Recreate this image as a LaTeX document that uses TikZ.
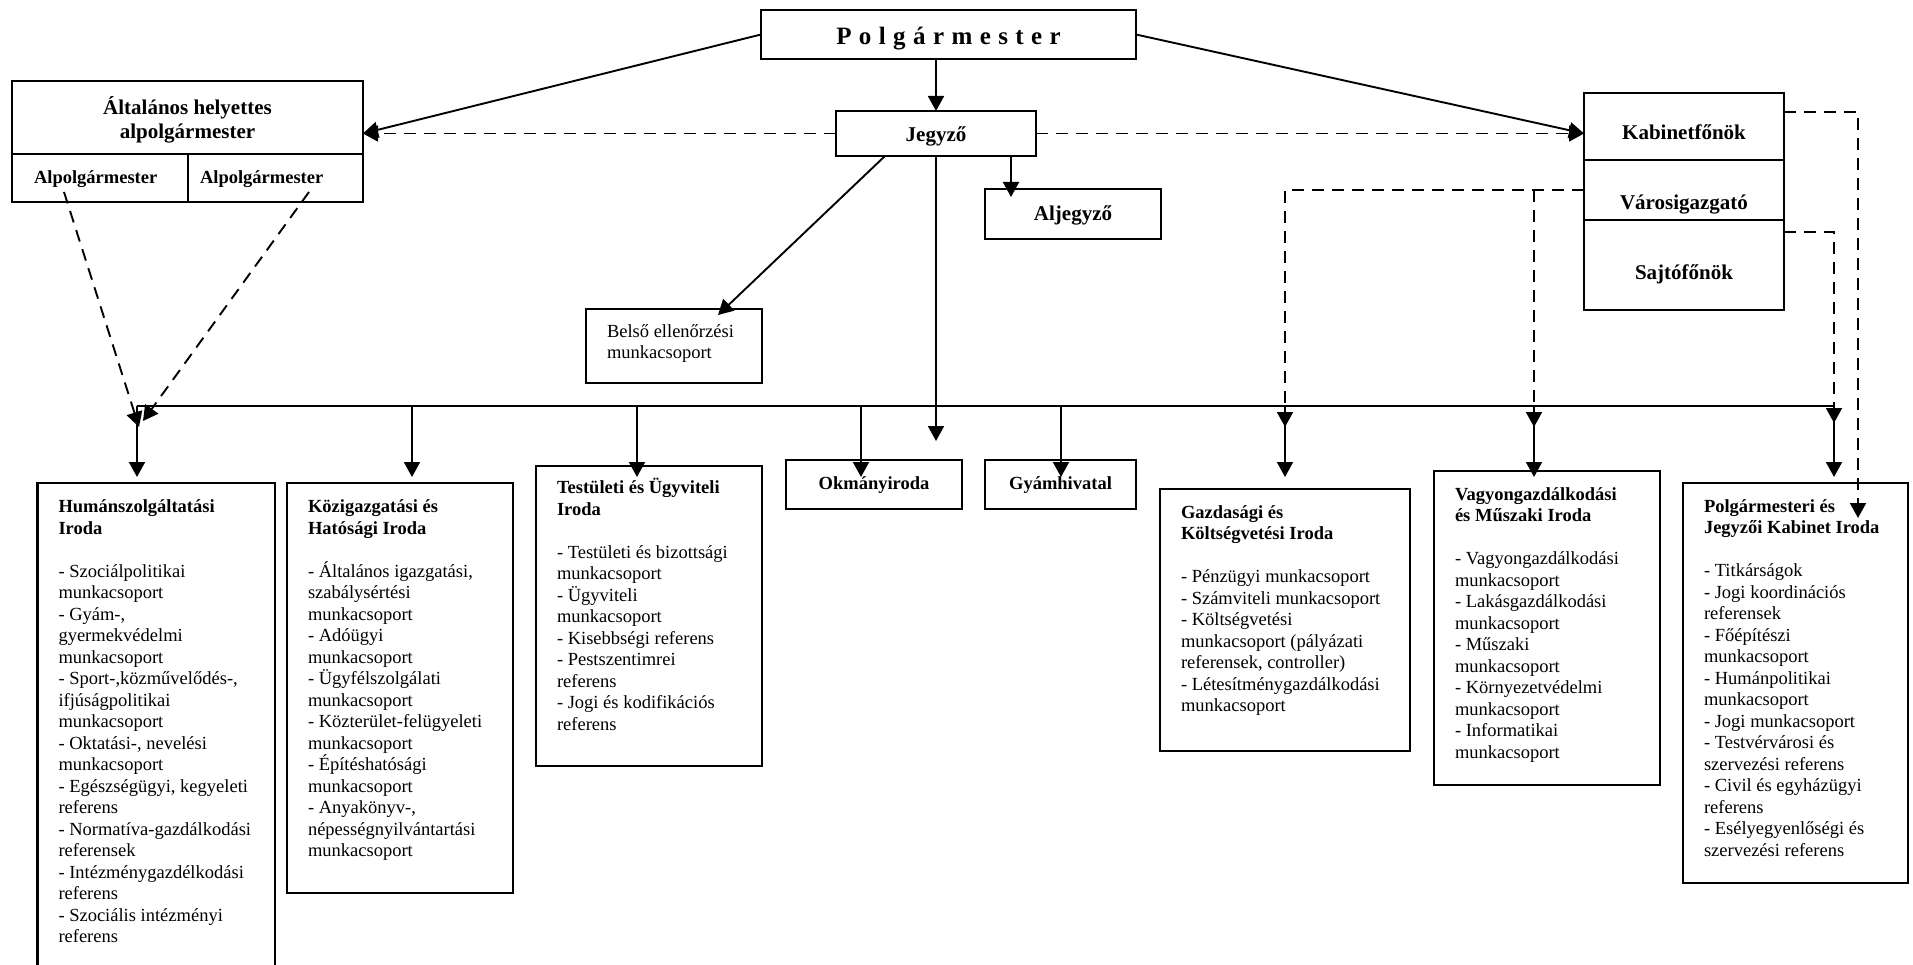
\documentclass[tikz,border=0pt]{standalone}
\usepackage{fontspec}
\setmainfont{Liberation Serif}
\usetikzlibrary{arrows.meta,calc}
\newcommand\bx[8]{\node[obox] (#1) at (#2,#3) {\parbox[c][#5pt][t]{#4pt}{#7\vspace*{\dimexpr#6pt-\ht\strutbox\relax}\strut#8}};}
\newcommand\offset{\fontsize{18.5}{21.5}\selectfont\raggedright\leftskip=21pt }
\newcommand\labset{\fontsize{21}{23.4}\selectfont\bfseries\centering}
\newcommand\smlab{\fontsize{18.5}{21.5}\selectfont\bfseries\centering}
\begin{document}
\begin{tikzpicture}[x=1pt,y=-1pt,
  obox/.style={draw,line width=2.1pt,inner sep=0pt,outer sep=0pt,anchor=north west},
  conn/.style={line width=1.9pt},
  arr/.style={conn,-{Triangle[length=15pt,width=16pt]}},
  dsh/.style={dash pattern=on 12pt off 8pt},
  darr/.style={arr,dsh}]
\useasboundingbox (0,0) rectangle (1913,965);
\clip (0,0) rectangle (1913,965);
% top level
\bx{pm}{761}{10}{375}{49}{35}{\fontsize{25}{28}\selectfont\bfseries\centering}{P\kern7.4pt o\kern7.4pt l\kern7.4pt g\kern7.4pt á\kern7.4pt r\kern7.4pt m\kern7.4pt e\kern7.4pt s\kern7.4pt t\kern7.4pt e\kern7.4pt r}
\bx{alt}{12}{81}{351}{73}{32}{\labset}{Általános helyettes\\alpolgármester}
\bx{alp1}{12}{154}{176}{48}{30}{\fontsize{18.5}{21.5}\selectfont\bfseries\raggedright\leftskip=22pt }{Alpolgármester}
\bx{alp2}{188}{154}{175}{48}{30}{\fontsize{18.5}{21.5}\selectfont\bfseries\raggedright\leftskip=12pt }{Alpolgármester}
\bx{jeg}{836}{111}{200}{45}{30.5}{\labset}{Jegyző}
\bx{alj}{985}{189}{176}{50}{32}{\labset}{Aljegyző}
\bx{bel}{586}{309}{176}{74}{29}{\fontsize{18.5}{21}\selectfont\raggedright\leftskip=21pt }{Belső ellenőrzési\\munkacsoport}
\bx{kab}{1584}{93}{200}{67}{47}{\labset}{Kabinetfőnök}
\bx{varos}{1584}{160}{200}{60}{50}{\labset}{Városigazgató}
\bx{sajto}{1584}{220}{200}{90}{60}{\labset}{Sajtófőnök}
% offices
\bx{okm}{786}{460}{176}{49}{29.5}{\smlab}{Okmányiroda}
\bx{gyam}{985}{460}{151}{49}{29.5}{\smlab}{Gyámhivatal}
\bx{hum}{37.5}{483}{237.5}{495}{29.5}{\offset}{\textbf{Humánszolgáltatási}\\\textbf{Iroda}\\[21.5pt]- Szociálpolitikai\\munkacsoport\\- Gyám-,\\gyermekvédelmi\\munkacsoport\\- Sport-,közművelődés-,\\ifjúságpolitikai\\munkacsoport\\- Oktatási-, nevelési\\munkacsoport\\- Egészségügyi, kegyeleti\\referens\\- Normatíva-gazdálkodási\\referensek\\- Intézménygazdélkodási\\referens\\- Szociális intézményi\\referens}
\bx{koz}{287}{483}{226}{410}{29.5}{\offset}{\textbf{Közigazgatási és}\\\textbf{Hatósági Iroda}\\[21.5pt]- Általános igazgatási,\\szabálysértési\\munkacsoport\\- Adóügyi\\munkacsoport\\- Ügyfélszolgálati\\munkacsoport\\- Közterület-felügyeleti\\munkacsoport\\- Építéshatósági\\munkacsoport\\- Anyakönyv-,\\népességnyilvántartási\\munkacsoport}
\bx{tes}{536}{466}{226}{300}{27.5}{\offset}{\textbf{Testületi és Ügyviteli}\\\textbf{Iroda}\\[21.5pt]- Testületi és bizottsági\\munkacsoport\\- Ügyviteli\\munkacsoport\\- Kisebbségi referens\\- Pestszentimrei\\referens\\- Jogi és kodifikációs\\referens}
\bx{gaz}{1160}{489}{250}{262}{29}{\offset}{\textbf{Gazdasági és}\\\textbf{Költségvetési Iroda}\\[21.5pt]- Pénzügyi munkacsoport\\- Számviteli munkacsoport\\- Költségvetési\\munkacsoport (pályázati\\referensek, controller)\\- Létesítménygazdálkodási\\munkacsoport}
\bx{vag}{1434}{471}{226}{314}{29}{\offset}{\textbf{Vagyongazdálkodási}\\\textbf{és Műszaki Iroda}\\[21.5pt]- Vagyongazdálkodási\\munkacsoport\\- Lakásgazdálkodási\\munkacsoport\\- Műszaki\\munkacsoport\\- Környezetvédelmi\\munkacsoport\\- Informatikai\\munkacsoport}
\bx{pol}{1683}{483}{225}{400}{29}{\offset}{\textbf{Polgármesteri és}\\\textbf{Jegyzői Kabinet Iroda}\\[21.5pt]- Titkárságok\\- Jogi koordinációs\\referensek\\- Főépítészi\\munkacsoport\\- Humánpolitikai\\munkacsoport\\- Jogi munkacsoport\\- Testvérvárosi és\\szervezési referens\\- Civil és egyházügyi\\referens\\- Esélyegyenlőségi és\\szervezési referens}
% connectors at the top
\draw[arr] (pm.west) -- (jeg.west -| alt.east);
\draw[arr] (pm.east) -- (jeg.east -| kab.west);
\draw[arr] (jeg.north |- pm.south) -- (jeg.north);
\draw[darr] (jeg.west) -- (jeg.west -| alt.east);
\draw[darr] (jeg.east) -- (jeg.east -| kab.west);
\coordinate (jA) at ($(jeg.south east)+(-25,0)$);
\draw[arr] (jA) -- ($(jA |- alj.north)+(0,8)$);
\coordinate (jB) at ($(jeg.south west)+(49,0)$);
\draw[arr] (jB) -- ($(bel.north)+(44,6)$);
\coordinate (jC) at (936,441);
\draw[arr] (jeg.south) -- (jC);
% bus
\coordinate (busL) at (137,406);
\coordinate (busR) at (1835,406);
\draw[conn] (busL) -- (busR);
\foreach \n/\x in {hum/137,koz/412,tes/637,okm/861,gyam/1061,gaz/1285,vag/1534,pol/1834}{
  \coordinate (d-\n) at (\x,406);
  \coordinate (t-\n) at (\x,477);
  \draw[arr] (d-\n) -- (t-\n);
}
% dashed links from the deputies
\coordinate (hj) at (139,427);
\draw[darr] ($(alp1.south west)+(52,-10)$) -- (hj);
\draw[darr] ($(alp2.south west)+(121,-10)$) -- ($(hj)+(4,-6)$);
% dashed links from the right column
\coordinate (gT) at (1285,427);
\coordinate (vT) at (1534,427);
\draw[darr] (varos.west) -| (gT);
\draw[darr] (varos.west -| vT) -- (vT);
\coordinate (sS) at ($(sajto.north east)+(0,12)$);
\coordinate (pT) at (1834,423);
\draw[darr] (sS) -| (pT);
\coordinate (kS) at ($(kab.north east)+(0,19)$);
\coordinate (kT) at (1858,518);
\draw[darr] (kS) -| (kT);
\end{tikzpicture}
\end{document}
